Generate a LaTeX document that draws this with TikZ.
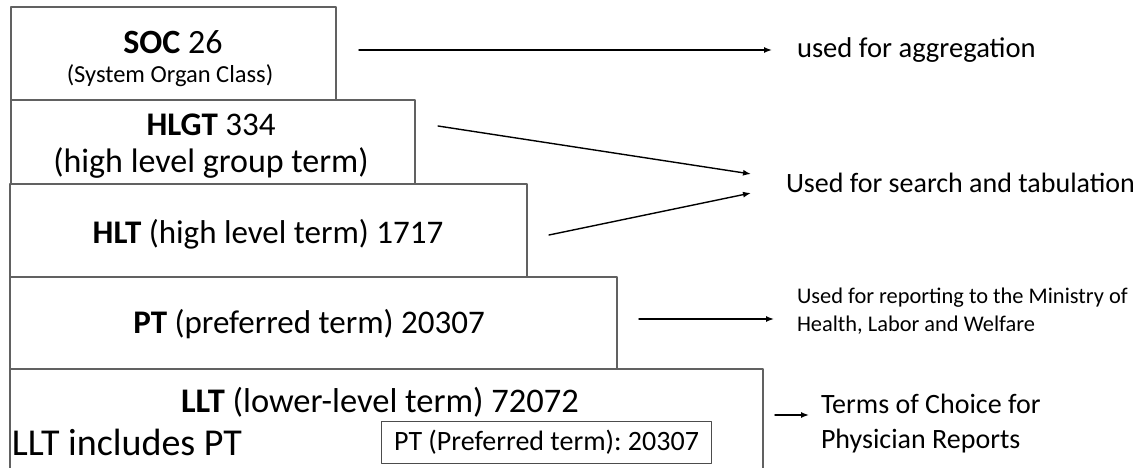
\documentclass[tikz,border=0pt]{standalone}
\usepackage{fontspec}
\setmainfont{Carlito}
\usetikzlibrary{arrows.meta}

\begin{document}
\begin{tikzpicture}[x=1pt,y=-1pt,line cap=round,line join=round,
  tier/.style={draw=black!62,line width=1.1pt,anchor=north west,inner sep=0pt,outer sep=0pt},
  lbl/.style={inner sep=0pt,outer sep=0pt},
  big/.style={lbl,font=\fontsize{33}{40}\selectfont},
  note/.style={lbl,anchor=west,align=left,font=\fontsize{28}{35}\selectfont},
  arr/.style={line width=1.4pt,-{Latex[length=8pt,width=6pt]}}]
  \useasboundingbox (0,0) rectangle (1140,468);
  % stacked tiers
  \node[tier,minimum width=325pt,minimum height=93pt] (soc) at (11,7) {};
  \node[tier,minimum width=404pt,minimum height=84pt] (hlgt) at (11,100) {};
  \node[tier,minimum width=517pt,minimum height=93pt] (hlt) at (10,184) {};
  \node[tier,minimum width=607pt,minimum height=92pt] (pt) at (10,277) {};
  \node[lbl,anchor=north west,minimum width=753pt,minimum height=99pt] (llt) at (10,369) {};
  \draw[draw=black!62,line width=1.1pt] (llt.south west) -- (llt.north west) -- (llt.north east) -- (llt.south east);
  % tier texts
  \node[lbl,font=\fontsize{34}{40}\selectfont] (soctitle) at (173,42) {\textbf{SOC} 26};
  \node[lbl,font=\fontsize{24.5}{28}\selectfont] (socsub) at (170,76) {(System Organ Class)};
  \node[big] (hlgttitle) at (211,125) {\textbf{HLGT} 334};
  \node[big,font=\fontsize{34}{40}\selectfont] (hlgtsub) at (211,163) {(high level group term)};
  \node[big] (hlttitle) at (268,234) {\textbf{HLT} (high level term) 1717};
  \node[big] (pttitle) at (309,324) {\textbf{PT} (preferred term) 20307};
  \node[big,font=\fontsize{34.5}{40}\selectfont] (llttitle) at (380,402) {\textbf{LLT} (lower-level term) 72072};
  \node[big,anchor=west,font=\fontsize{38}{44}\selectfont] (lltinc) at (12,442) {LLT includes PT};
  \node[draw=black!70,line width=1pt,anchor=north west,minimum width=330pt,minimum height=42pt,
    inner sep=0pt,font=\fontsize{28}{32}\selectfont] (ptinner) at (381,421) {PT (Preferred term):\ 20307};
  % uses
  \node[note,font=\fontsize{28.6}{35}\selectfont] (agg) at (797,50) {used for aggregation};
  \node[note] (search) at (786,183) {Used for search and tabulation};
  \node[note,font=\fontsize{22.4}{28}\selectfont] (report) at (797,311) {Used for reporting to the Ministry of\\Health, Labor and Welfare};
  \node[note,font=\fontsize{28}{35}\selectfont] (terms) at (821,424) {Terms of Choice for\\Physician Reports};
  % connectors
  \draw[arr,shorten <=23pt,shorten >=25pt] (soc.east |- agg.west) -- (agg.west);
  \draw[arr] ([xshift=23pt,yshift=16pt]hlgt.east) -- ([xshift=-35pt,yshift=9pt]search.west);
  \draw[arr] ([xshift=22pt,yshift=-4.5pt]hlt.east) -- ([xshift=-35pt,yshift=-10pt]search.west);
  \draw[arr] ([xshift=22pt,yshift=4pt]pt.east) -- ([xshift=-23pt,yshift=-8pt]report.west);
  \draw[arr] ([xshift=12pt,yshift=3.5pt]llt.east) -- ([xshift=-12pt,yshift=9pt]terms.west);
\end{tikzpicture}
\end{document}
